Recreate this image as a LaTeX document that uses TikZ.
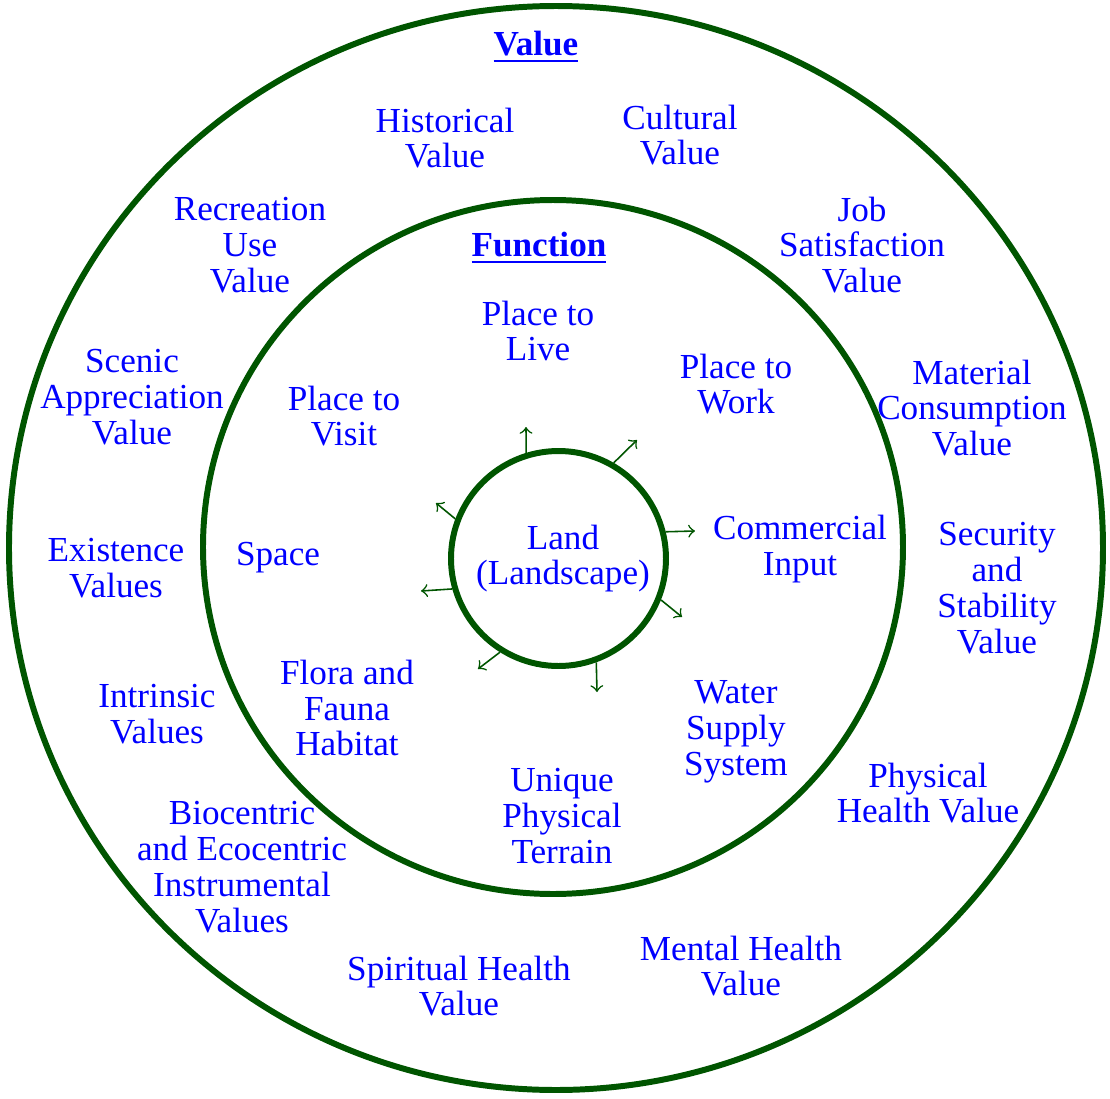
\documentclass[tikz,border=0pt]{standalone}
\usepackage{fontspec}
\setmainfont{Liberation Serif}
\usetikzlibrary{calc}
\definecolor{ringgreen}{RGB}{0,85,0}
\definecolor{txtblue}{RGB}{0,0,255}
\tikzset{
  ring/.style={draw=ringgreen, line width=1.7pt},
  lbl/.style={text=txtblue, align=center, inner sep=0pt, font=\fontsize{10}{10.2}\selectfont},
  spoke/.style={->, draw=ringgreen, line width=0.45pt},
}

\begin{document}
\begin{tikzpicture}
	\useasboundingbox (0,0) rectangle (11.10,-10.99);
	% rings
	\draw [ring] (5.56,-5.48) ellipse [x radius=5.47cm, y radius=5.42cm];
	\draw [ring] (5.53,-5.47) ellipse [x radius=3.50cm, y radius=3.47cm];
	\node [ring, circle, inner sep=0pt, minimum size=2.15cm, lbl] (land) at (5.585,-5.585) {\hspace{0.9mm}Land\\\hspace{0.9mm}(Landscape)};
	% value
	\node [lbl] (value) at (5.36,-0.47) {\underline{\textbf{Value}}};
	\node [lbl] (historical) at (4.45,-1.38) {Historical\\Value};
	\node [lbl] (cultural) at (6.80,-1.35) {Cultural\\Value};
	\node [lbl] (recreation) at (2.50,-2.45) {Recreation\\Use\\Value};
	\node [lbl] (job) at (8.62,-2.45) {Job\\Satisfaction\\Value};
	\node [lbl] (scenic) at (1.32,-3.97) {Scenic\\Appreciation\\Value};
	\node [lbl] (material) at (9.72,-4.08) {Material\\Consumption\\Value};
	\node [lbl] (existence) at (1.16,-5.68) {Existence\\Values};
	\node [lbl] (security) at (9.97,-5.88) {Security\\and\\Stability\\Value};
	\node [lbl] (intrinsic) at (1.57,-7.14) {Intrinsic\\Values};
	\node [lbl] (physical) at (9.28,-7.93) {Physical\\Health Value};
	\node [lbl] (biocentric) at (2.42,-8.67) {Biocentric\\and Ecocentric\\Instrumental\\Values};
	\node [lbl] (spiritual) at (4.59,-9.86) {Spiritual Health\\Value};
	\node [lbl] (mental) at (7.41,-9.66) {Mental Health\\Value};
	% function
	\node [lbl] (function) at (5.39,-2.48) {\underline{\textbf{Function}}};
	\node [lbl] (live) at (5.38,-3.31) {Place to\\Live};
	\node [lbl] (work) at (7.36,-3.84) {Place to\\Work};
	\node [lbl] (visit) at (3.44,-4.16) {Place to\\Visit};
	\node [lbl] (space) at (2.78,-5.58) {Space};
	\node [lbl] (commercial) at (8.00,-5.49) {Commercial\\Input};
	\node [lbl] (flora) at (3.47,-7.08) {Flora and\\Fauna\\Habitat};
	\node [lbl] (water) at (7.36,-7.32) {Water\\Supply\\System};
	\node [lbl] (terrain) at (5.62,-8.16) {Unique\\Physical\\Terrain};
	% spokes
	\foreach \a/\x/\y [count=\i] in {107/5.26/-4.27, 60/6.37/-4.40, 14/6.95/-5.31, -22/6.82/-6.17,
			-70/5.97/-6.92, -122/4.78/-6.69, 196/4.21/-5.91, 159/4.36/-5.03} {
		\coordinate (tip\i) at (\x,\y);
		\draw [spoke] (land.\a) -- (tip\i);
	}
\end{tikzpicture}
\end{document}
